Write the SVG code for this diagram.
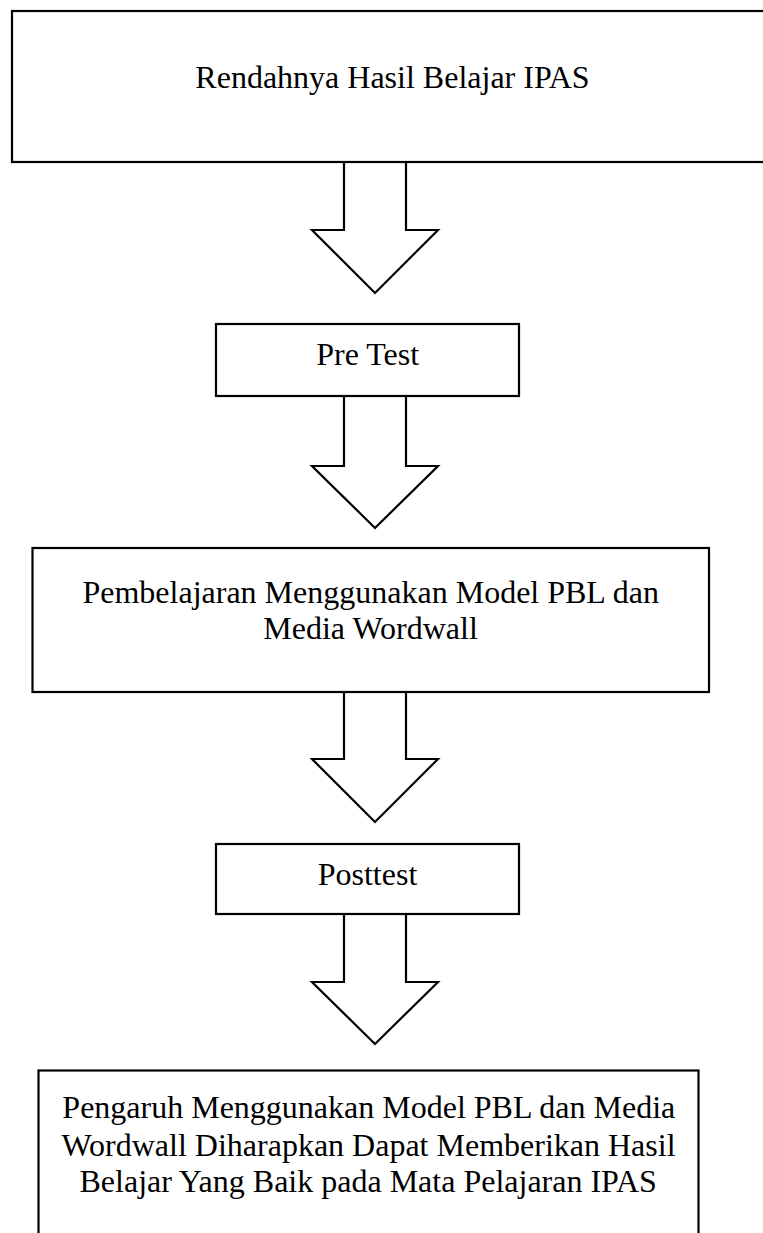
<svg xmlns="http://www.w3.org/2000/svg" width="763" height="1233" viewBox="0 0 763 1233">
<style>
.box{fill:#fff;stroke:#000;stroke-width:2.2}
.arr{fill:#fff;stroke:#000;stroke-width:2.2;stroke-linejoin:miter}
.t{font-family:"Liberation Serif","Times New Roman",serif;font-size:32px;fill:#000;text-anchor:middle}
</style>
<rect width="763" height="1233" fill="#fff"/>
<g id="connectors">
<polygon class="arr" points="344,162 406,162 406,230 438,230 375,293 312,230 344,230"/>
<polygon class="arr" points="344,396 406,396 406,466 438,466 375,528 312,466 344,466"/>
<polygon class="arr" points="344,692 406,692 406,759 438,759 375,822 312,759 344,759"/>
<polygon class="arr" points="344,914 406,914 406,982 438,982 375,1044 312,982 344,982"/>
</g>
<g id="node-rendahnya">
<rect class="box" x="12" y="11" width="770" height="151"/>
<text class="t" x="392.5" y="87.5">Rendahnya Hasil Belajar IPAS</text>
</g>
<g id="node-pretest">
<rect class="box" x="216" y="324" width="303" height="72"/>
<text class="t" x="367.7" y="365">Pre Test</text>
</g>
<g id="node-pembelajaran">
<rect class="box" x="32.5" y="548" width="676.5" height="144"/>
<text class="t" x="370.7" y="602.7">Pembelajaran Menggunakan Model PBL dan</text>
<text class="t" x="370.5" y="639">Media Wordwall</text>
</g>
<g id="node-posttest">
<rect class="box" x="216" y="844" width="303" height="70"/>
<text class="t" x="367.5" y="885">Posttest</text>
</g>
<g id="node-pengaruh">
<rect class="box" x="38.5" y="1070.5" width="660" height="200"/>
<text class="t" x="368.8" y="1118">Pengaruh Menggunakan Model PBL dan Media</text>
<text class="t" x="368.5" y="1155.5">Wordwall Diharapkan Dapat Memberikan Hasil</text>
<text class="t" x="368.2" y="1192">Belajar Yang Baik pada Mata Pelajaran IPAS</text>
</g>
</svg>
